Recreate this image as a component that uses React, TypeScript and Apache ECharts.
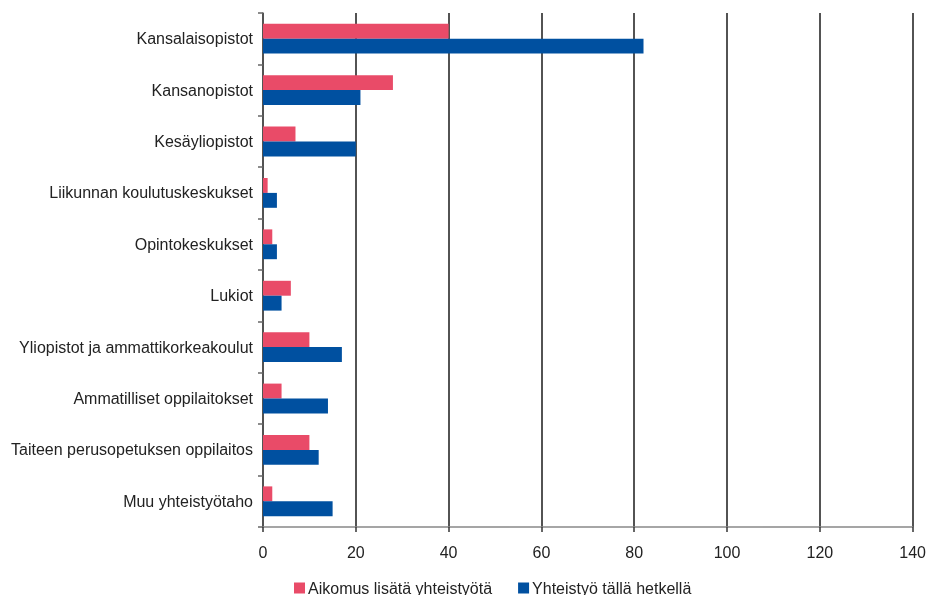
import React, { useEffect, useRef } from "react";
import * as echarts from "echarts";

const categories = [
  "Kansalaisopistot",
  "Kansanopistot",
  "Kesäyliopistot",
  "Liikunnan koulutuskeskukset",
  "Opintokeskukset",
  "Lukiot",
  "Yliopistot ja ammattikorkeakoulut",
  "Ammatilliset oppilaitokset",
  "Taiteen perusopetuksen oppilaitos",
  "Muu yhteistyötaho",
];
const aikomus = [40, 28, 7, 1, 2, 6, 10, 4, 10, 2];
const yhteistyo = [82, 21, 20, 3, 3, 4, 17, 14, 12, 15];
const seriesNames = ["Aikomus lisätä yhteistyötä", "Yhteistyö tällä hetkellä"];

const FONT = "'Liberation Sans', Arial, sans-serif";

export default function App() {
  const ref = useRef<HTMLDivElement>(null);
  useEffect(() => {
    if (!ref.current) return;
    const chart = echarts.init(ref.current, null, { renderer: "svg" });
    chart.setOption({
      animation: false,
      textStyle: { fontFamily: FONT },
      grid: { left: 263, right: 6, top: 13, bottom: 68, containLabel: false },
      legend: {
        left: 289,
        top: 575,
        icon: "rect",
        itemWidth: 11,
        itemHeight: 11,
        itemGap: 26,
        textStyle: { color: "#222", fontSize: 16, fontFamily: FONT, padding: [0, 0, 0, -2] },
        data: seriesNames,
      },
      xAxis: {
        type: "value",
        min: 0,
        max: 140,
        interval: 20,
        axisLine: { show: true, lineStyle: { color: "#888", width: 1.5 } },
        axisTick: { show: true, length: 5, lineStyle: { color: "#333", width: 1.5 } },
        axisLabel: { color: "#222", fontSize: 16, margin: 17, fontFamily: FONT },
        splitLine: { show: true, lineStyle: { color: "#1a1a1a", width: 1.5 } },
      },
      yAxis: {
        type: "category",
        data: categories,
        inverse: true,
        axisLine: { show: true, lineStyle: { color: "#555", width: 1.5 } },
        axisTick: { show: true, length: 5, lineStyle: { color: "#666", width: 1.5 } },
        axisLabel: { color: "#222", fontSize: 16, margin: 10, fontFamily: FONT },
        splitLine: { show: false },
      },
      series: [
        {
          name: seriesNames[0],
          type: "bar",
          data: aikomus,
          itemStyle: { color: "#E94B68" },
          barGap: "0%",
          barCategoryGap: "42%",
        },
        {
          name: seriesNames[1],
          type: "bar",
          data: yhteistyo,
          itemStyle: { color: "#0050A0" },
          barGap: "0%",
          barCategoryGap: "42%",
        },
      ],
    });
    return () => chart.dispose();
  }, []);
  return (
    <div
      ref={ref}
      style={{ position: "fixed", left: 0, top: 0, width: 929, height: 595 }}
    />
  );
}
